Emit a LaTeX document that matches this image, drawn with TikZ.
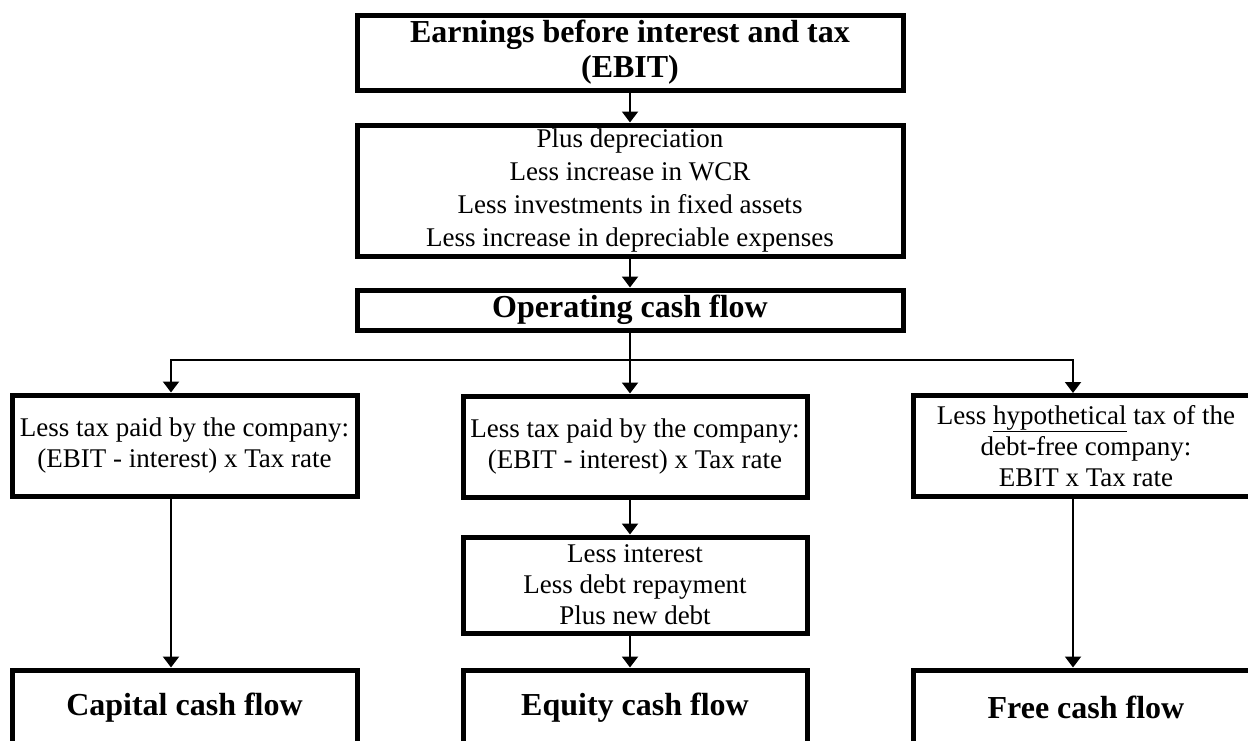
\documentclass[tikz,border=0pt]{standalone}
\usepackage{fontspec}
\setmainfont{Liberation Serif}
\usetikzlibrary{arrows.meta}
\begin{document}
\begin{tikzpicture}[x=1pt,y=-1pt,
  box/.style={draw, line width=5pt, rectangle, align=center, inner sep=0pt, font=\fontsize{27}{31}\selectfont},
  bbox/.style={box, font=\fontsize{32}{35}\selectfont\bfseries},
  arr/.style={line width=2pt, -{Triangle[width=16pt,length=11pt]}},
  ln/.style={line width=2pt}]
\useasboundingbox (0,0) rectangle (1248,740);
\clip (0,0) rectangle (1248,740);
\node[bbox, minimum width=546pt, minimum height=75pt] (ebit) at (630,52.5) {Earnings before interest and tax\\(EBIT)};
\node[box, font=\fontsize{27}{33}\selectfont, minimum width=546pt, minimum height=131pt] (adj) at (630,190.5) {Plus depreciation\\Less increase in WCR\\Less investments in fixed assets\\Less increase in depreciable expenses};
\node[bbox, minimum width=546pt, minimum height=40pt] (ocf) at (630,310) {Operating cash flow};
\node[box, minimum width=345pt, minimum height=101pt] (taxL) at (184.5,445.5) {Less tax paid by the company:\\(EBIT - interest) x Tax rate};
\node[box, minimum width=344pt, minimum height=101pt] (taxM) at (635,446.5) {Less tax paid by the company:\\(EBIT - interest) x Tax rate};
\node[box, minimum width=345pt, minimum height=101pt] (taxR) at (1086,446) {Less \underline{hypothetical} tax of the\\debt-free company:\\EBIT x Tax rate};
\node[box, minimum width=344pt, minimum height=96pt] (intr) at (635,585) {Less interest\\Less debt repayment\\Plus new debt};
\node[bbox, minimum width=345pt, minimum height=75pt] (cap) at (184.5,707.5) {Capital cash flow};
\node[bbox, minimum width=344pt, minimum height=75pt] (eq) at (635,707.5) {Equity cash flow};
\node[bbox, minimum width=345pt, minimum height=75pt] (free) at (1086,707.5) {Free cash flow};
\coordinate (split) at (630,360);
\coordinate (jL) at (171,360);
\coordinate (jR) at (1073,360);
\draw[arr] (ebit.south -| split) -- (adj.north -| split);
\draw[arr] (adj.south -| split) -- (ocf.north -| split);
\draw[ln] (ocf.south -| split) -- (split);
\draw[arr] (split) -- (jL) -- (jL |- taxL.north);
\draw[arr] (split) -- (jR) -- (jR |- taxR.north);
\draw[arr] (split) -- (split |- taxM.north);
\draw[arr] (jL |- taxL.south) -- (jL |- cap.north);
\draw[arr] (jR |- taxR.south) -- (jR |- free.north);
\draw[arr] (split |- taxM.south) -- (split |- intr.north);
\draw[arr] (split |- intr.south) -- (split |- eq.north);
\end{tikzpicture}
\end{document}
